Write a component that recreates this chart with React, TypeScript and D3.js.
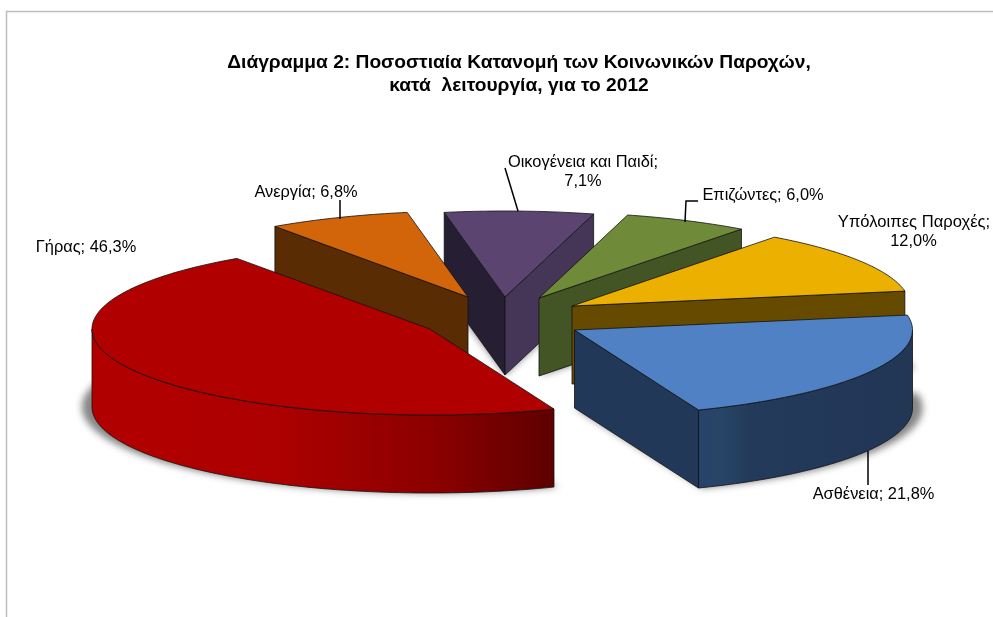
import React from "react";
import * as d3 from "d3";

const categories = ["Ασθένεια", "Γήρας", "Ανεργία", "Οικογένεια και Παιδί", "Επιζώντες", "Υπόλοιπες Παροχές"];
const shares = [21.8, 46.3, 6.8, 7.1, 6.0, 12.0];
const valueLabels = ["21,8%", "46,3%", "6,8%", "7,1%", "6,0%", "12,0%"];
const titleLines = ["Διάγραμμα 2: Ποσοστιαία Κατανομή των Κοινωνικών Παροχών,", "κατά  λειτουργία, για το 2012"];

const apexX = [574.5, 430, 468, 505, 539, 572];
const apexY = [330, 329, 297, 297, 298, 306];
const topFill = ["#4f81c4", "#b00000", "#d2640a", "#5c4470", "#6f8a38", "#ecb100"];
const cutFill = ["#223858", "#7a0000", "#5a2c04", "#261f33", "#445525", "#664a00"];
const cutFillEnd = ["#223858", "#7a0000", "#5a2c04", "#453658", "#445525", "#664a00"];
const wallFill = ["url(#wallBlue)", "url(#wallRed)", "#5a2c04", "#453658", "#445525", "#664a00"];
const paintOrder = [3, 2, 4, 5, 0, 1];

const W = 993, H = 617;
const RX = 338, RY = 86, DEPTH = 78;
const START = (80 * Math.PI) / 180;
const TAU = Math.PI * 2;

const pie = d3.pie<number>().sort(null).startAngle(START).endAngle(START + TAU);
const arcs = pie(shares);
const sx = d3.scaleLinear().domain([-1, 1]).range([-RX, RX]);
const sy = d3.scaleLinear().domain([-1, 1]).range([-RY, RY]);
const line = d3.line<[number, number]>();

const proj = (i: number, a: number, h = 0): [number, number] => [
  apexX[i] + sx(Math.sin(a)),
  apexY[i] + sy(-Math.cos(a)) + h,
];
const sample = (i: number, a0: number, a1: number, h = 0) => {
  const n = Math.max(2, Math.ceil(((a1 - a0) * 180) / Math.PI));
  return d3.range(n + 1).map((k) => proj(i, a0 + ((a1 - a0) * k) / n, h));
};
const top = (i: number) => {
  const { startAngle: a, endAngle: b } = arcs[i];
  return line([[apexX[i], apexY[i]], ...sample(i, a, b)])! + "Z";
};
const bottom = (i: number) => {
  const { startAngle: a, endAngle: b } = arcs[i];
  return line([[apexX[i], apexY[i] + DEPTH], ...sample(i, a, b, DEPTH)])! + "Z";
};
const cut = (i: number, a: number) => {
  const p = proj(i, a), q = proj(i, a, DEPTH);
  return line([[apexX[i], apexY[i]], p, q, [apexX[i], apexY[i] + DEPTH]])! + "Z";
};
const outer = (i: number) => {
  const { startAngle, endAngle } = arcs[i];
  const vis: [number, number][] = [];
  for (const k of [0, TAU]) {
    const a = Math.max(startAngle, Math.PI / 2 + k);
    const b = Math.min(endAngle, (3 * Math.PI) / 2 + k);
    if (b > a) vis.push([a, b]);
  }
  return vis.map(([a, b]) => line([...sample(i, a, b), ...sample(i, a, b, DEPTH).reverse()])! + "Z").join("");
};
const inLeft = (a: number) => Math.sin(a) < 0;

const labelStyle = { fontFamily: "'Liberation Sans', Arial, sans-serif", fontSize: 16.4, fill: "#000" };

export default function App() {
  return (
    <svg width={W} height={H} viewBox={`0 0 ${W} ${H}`} style={{ position: "absolute", left: 0, top: 0, display: "block", background: "#fff" }}>
      <defs>
        <linearGradient id="wallRed" gradientUnits="userSpaceOnUse" x1={90} x2={553} y1={0} y2={0}>
          <stop offset="0" stopColor="#b20000" />
          <stop offset="0.4" stopColor="#ad0000" />
          <stop offset="0.75" stopColor="#8b0000" />
          <stop offset="1" stopColor="#5e0000" />
        </linearGradient>
        <linearGradient id="wallBlue" gradientUnits="userSpaceOnUse" x1={697} x2={911} y1={0} y2={0}>
          <stop offset="0" stopColor="#26426a" />
          <stop offset="0.1" stopColor="#284568" />
          <stop offset="0.25" stopColor="#233a5a" />
          <stop offset="1" stopColor="#223656" />
        </linearGradient>
        <filter id="soft" x="-10%" y="-10%" width="120%" height="120%">
          <feGaussianBlur stdDeviation="3.5" />
        </filter>
      </defs>

      <path d={`M6.5 617V11.5H${W}`} fill="none" stroke="#bdbdbd" strokeWidth={1.5} />

      <g filter="url(#soft)" fill="#444" opacity={0.65}>
        {paintOrder.map((i) => (
          <path key={i} d={bottom(i)} transform={`translate(${apexX[i]} ${apexY[i] + DEPTH}) scale(1.03 1.0) translate(${-apexX[i]} ${-apexY[i] - DEPTH})`} />
        ))}
      </g>

      {paintOrder.map((i) => {
        const { startAngle, endAngle } = arcs[i];
        return (
          <g key={categories[i]} stroke="#111" strokeWidth={0.8} strokeLinejoin="round">
            {inLeft(startAngle) && <path d={cut(i, startAngle)} fill={cutFill[i]} />}
            {!inLeft(endAngle) && <path d={cut(i, endAngle)} fill={cutFillEnd[i]} />}
            <path d={outer(i)} fill={wallFill[i]} />
            <path d={top(i)} fill={topFill[i]} />
          </g>
        );
      })}

      <g stroke="#000" strokeWidth={1.5} fill="none">
        <path d="M340 200V219" />
        <path d="M505 168L518 211" />
        <path d="M698 201H686L685 222" />
        <path d="M868 451V485" />
      </g>

      <g textAnchor="middle" style={{ ...labelStyle, fontSize: 19.2, fontWeight: 700 }}>
        <text x={519} y={68}>{titleLines[0]}</text>
        <text x={519} y={90.5} xmlSpace="preserve">{titleLines[1]}</text>
      </g>

      <g textAnchor="middle" style={labelStyle}>
        <text x={86} y={252}>{`${categories[1]}; ${valueLabels[1]}`}</text>
        <text x={306} y={197}>{`${categories[2]}; ${valueLabels[2]}`}</text>
        <text x={583} y={167}>{`${categories[3]};`}</text>
        <text x={583} y={186}>{valueLabels[3]}</text>
        <text x={763} y={200}>{`${categories[4]}; ${valueLabels[4]}`}</text>
        <text x={914} y={227} style={{ fontSize: 16.6 }}>{`${categories[5]};`}</text>
        <text x={913.5} y={246}>{valueLabels[5]}</text>
        <text x={873.5} y={499}>{`${categories[0]}; ${valueLabels[0]}`}</text>
      </g>
    </svg>
  );
}
